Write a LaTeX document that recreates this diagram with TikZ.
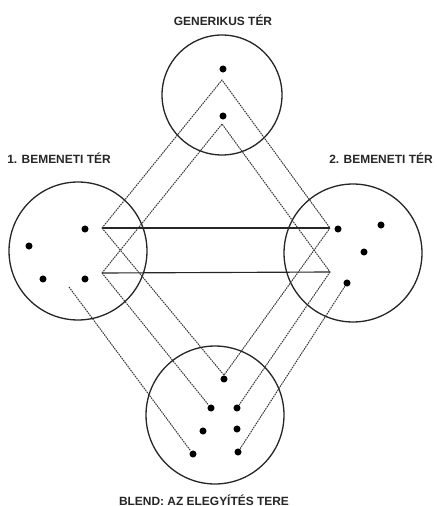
\documentclass[tikz,border=0pt]{standalone}
\usepackage{fontspec}
\setmainfont{Liberation Sans}
\usepackage{tikz}
\usetikzlibrary{positioning}

\begin{document}
\begin{tikzpicture}[x=0.02cm,y=-0.02cm,font=\fontsize{6.8}{8}\selectfont\bfseries,
space/.style={draw=black!85,circle,line width=0.75pt,inner sep=0pt},
pt/.style={circle,fill,inner sep=0pt,minimum size=4pt},
title/.style={inner sep=1pt,text=black!85},
map/.style={dash pattern=on 0.9pt off 0.5pt,line width=0.55pt,draw=black!80},
link/.style={line width=0.65pt,draw=black!85}]
\useasboundingbox (0,0) rectangle (436,506);
% spaces
\node[space,minimum size=2.4cm] (gen) at (222,95) {};
\node[space,minimum size=2.76cm] (in1) at (78,251) {};
\node[space,minimum size=2.76cm] (in2) at (353,253) {};
\node[space,minimum size=2.76cm] (bl) at (215,415) {};
\node[title] (tgen) at (223,20) {GENERIKUS TÉR};
\node[title] (tin1) at (59,158) {1. BEMENETI TÉR};
\node[title] (tin2) at (381,158) {2. BEMENETI TÉR};
\node[title] (tbl) at (204,500) {BLEND: AZ ELEGYÍTÉS TERE};
% elements
\node[pt] (g1) at (223,69) {}; \node[pt] (g2) at (223,116) {};
\node[pt] (a1) at (85,229) {}; \node[pt] (a2) at (29,246) {};
\node[pt] (a3) at (43,279) {}; \node[pt] (a4) at (85,279) {};
\node[pt] (b1) at (338,229) {}; \node[pt] (b2) at (381,225) {};
\node[pt] (b3) at (364,252) {}; \node[pt] (b4) at (347,283) {};
\node[pt] (d1) at (224,379) {}; \node[pt] (d2) at (211,408) {};
\node[pt] (d3) at (237,408) {}; \node[pt] (d4) at (203,431) {};
\node[pt] (d5) at (237,429) {}; \node[pt] (d6) at (193,454) {};
\node[pt] (d7) at (238,452) {};
\coordinate (t1) at (222,80); \coordinate (t2) at (222,124);
\coordinate (l1) at (102,228); \coordinate (l2) at (102,273);
\coordinate (r1) at (330,228); \coordinate (r2) at (330,272);
\coordinate (c) at (69,287);
% counterparts
\draw[link] (l1)--(r1); \draw[link] (l2)--(r2);
\draw[map] (l1)--(t1)--(r1); \draw[map] (l2)--(t2)--(r2);
\draw[map] (l1)--(d1.north)--(r1);
\draw[map] (l2)--(d2); \draw[map] (r2)--(d3);
\draw[map] (c)--(d6); \draw[map] (b4)--(d7);
\end{tikzpicture}
\end{document}
